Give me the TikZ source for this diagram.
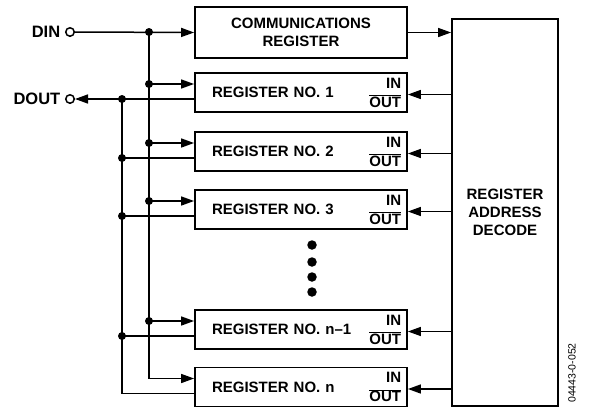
\documentclass[tikz,border=0pt]{standalone}
\usepackage{fontspec}
\setmainfont{Liberation Sans}
\usetikzlibrary{arrows.meta,positioning}
\newcommand{\regfont}{\fontsize{15}{18}\selectfont\bfseries}
\newcommand{\iofont}{\fontsize{15}{19}\selectfont\bfseries}
\newcommand{\pinfont}{\fontsize{16.5}{20}\selectfont\bfseries}
\tikzset{
    regbox/.style={draw, line width=1.8pt, minimum height=39pt, text width=178pt,
        inner xsep=17pt, align=left},
    iobox/.style={inner sep=0pt, align=right, font=\iofont},
    port/.style={circle, draw, line width=1.5pt, minimum size=8.5pt, inner sep=0pt},
    jdot/.style={circle, fill, minimum size=8pt, inner sep=0pt},
    bigdot/.style={circle, fill, minimum size=9.5pt, inner sep=0pt},
}

\begin{document}
\begin{tikzpicture}[x=1pt, y=-1pt, line width=1.5pt, font=\regfont,
    >={Triangle[length=13pt, width=9pt]}]
\useasboundingbox (0,0) rectangle (589,410);

% register blocks
\node[regbox, minimum height=51pt, align=center] (comms) at (301,32.5) {COMMUNICATIONS\\REGISTER};
\foreach \nm/\y/\no in {r1/92.5/1, r2/151.5/2, r3/209.5/3, rm/329.5/n--1, rn/387/n} {
    \node[regbox] (\nm) at (301,\y) {REGISTER NO. \no};
    \node[iobox, anchor=east] (\nm-io) at ([xshift=-6pt]\nm.east) {IN\\$\overline{\hbox{OUT}}$};
    \coordinate (\nm-in) at ([yshift=8.5pt]\nm.west);
    \coordinate (\nm-out) at ([yshift=-6.5pt]\nm.west);
    \coordinate (\nm-dec) at ([yshift=-2pt]\nm.east);
}
\node[draw, line width=1.8pt, minimum width=106pt, minimum height=387pt, align=center]
    (decode) at (505,212.5) {REGISTER\\ADDRESS\\DECODE};

% serial pins
\node[port, label={[inner sep=0pt, label distance=4pt, font=\pinfont]left:DIN}] (din) at (70,32) {};
\node[port, label={[inner sep=0pt, label distance=4pt, font=\pinfont]left:DOUT}] (dout) at (70,99) {};
\coordinate (dinbus) at (149,32);
\coordinate (doutbus) at (122,99);

% din bus
\draw[->] (din.east) -- (comms.west);
\draw[->] (dinbus) |- (rn-in);
\node[jdot] (jdin) at (dinbus) {};
\foreach \nm in {r1, r2, r3, rm} {
    \draw[->] (\nm-in -| dinbus) -- (\nm-in);
    \node[jdot] (j\nm-in) at (\nm-in -| dinbus) {};
}

% dout bus
\draw[->] (r1-out) -- (dout.east);
\draw (doutbus) |- (rn-out);
\foreach \nm in {r1, r2, r3, rm} {
    \draw (\nm-out) -- (\nm-out -| doutbus);
    \node[jdot] (j\nm-out) at (\nm-out -| doutbus) {};
}

% decode outputs
\draw[->] (comms.east) -- (comms.east -| decode.west);
\foreach \nm in {r1, r2, r3, rm, rn} {
    \draw[->] (\nm-dec -| decode.west) -- (\nm-dec);
}

% more registers
\foreach \i/\y in {1/245, 2/262, 3/277, 4/292} {
    \node[bigdot] (more\i) at (312,\y) {};
}

\node[rotate=90, font=\fontsize{10.5}{12}\selectfont] (figno) at (572,373) {04443-0-052};
\end{tikzpicture}
\end{document}
